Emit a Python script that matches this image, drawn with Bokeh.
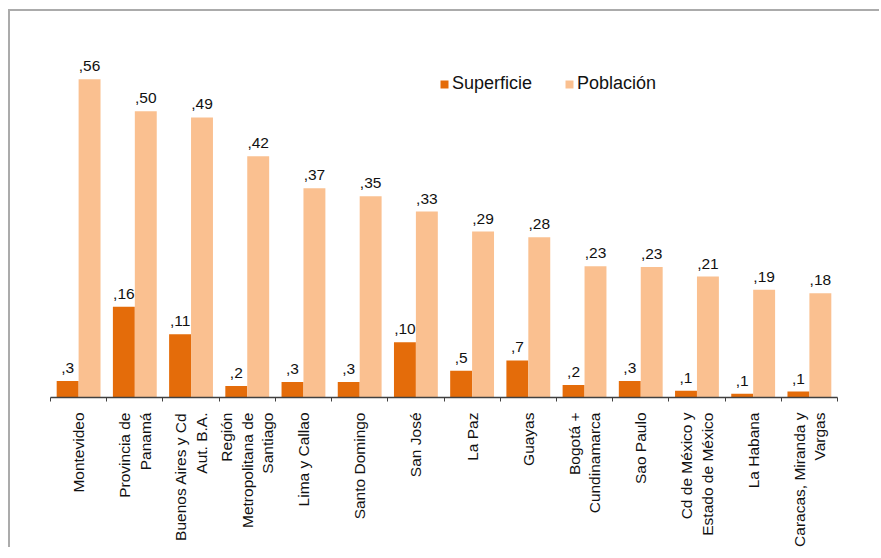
import math
from bokeh.plotting import figure
from bokeh.models import (FactorRange, Range1d, LinearAxis, CategoricalAxis, FixedTicker,
                          ColumnDataSource, Legend, LegendItem)
from bokeh.transform import dodge
from bokeh.core.properties import value
from bokeh.embed import file_html
from bokeh.resources import INLINE

categories = ["Montevideo", "Provincia de\nPanamá", "Buenos Aires y Cd\nAut. B.A.",
              "Región\nMetropolitana de\nSantiago", "Lima y Callao", "Santo Domingo",
              "San José", "La Paz", "Guayas", "Bogotá +\nCundinamarca", "Sao Paulo",
              "Cd de México y\nEstado de México", "La Habana", "Caracas, Miranda y\nVargas"]
superficie = [0.029, 0.159, 0.111, 0.020, 0.027, 0.027, 0.097, 0.047, 0.065, 0.022,
              0.029, 0.012, 0.0065, 0.0105]
poblacion = [0.558, 0.502, 0.491, 0.423, 0.367, 0.353, 0.326, 0.291, 0.281, 0.230,
             0.229, 0.212, 0.189, 0.183]
superficie_labels = [",3", ",16", ",11", ",2", ",3", ",3", ",10", ",5", ",7", ",2",
                     ",3", ",1", ",1", ",1"]
poblacion_labels = [",56", ",50", ",49", ",42", ",37", ",35", ",33", ",29", ",28",
                    ",23", ",23", ",21", ",19", ",18"]

DARK = "#E46C0A"
LIGHT = "#FAC090"
FONT = "Liberation Sans"

src = ColumnDataSource(dict(cat=categories, sup=superficie, pob=poblacion,
                            sl=superficie_labels, pl=poblacion_labels))

p = figure(x_range=FactorRange(*categories), y_range=Range1d(0, 0.626),
           width=871, height=538, output_backend="svg", toolbar_location=None,
           x_axis_location=None, y_axis_location=None,
           min_border_left=40, min_border_right=44, min_border_top=29, min_border_bottom=145)
p.styles = {"margin-left": "8px", "margin-top": "9px",
            "border-left": "2px solid #ababab", "border-top": "2px solid #ababab",
            "border-right": "none", "border-bottom": "none"}
p.xgrid.visible = False
p.ygrid.visible = False
p.outline_line_color = None
p.background_fill_color = "white"
p.border_fill_color = "white"

bw = 0.39
r1 = p.vbar(x=dodge("cat", -bw / 2, range=p.x_range), top="sup", width=bw, source=src,
            fill_color=DARK, line_color=None)
r2 = p.vbar(x=dodge("cat", bw / 2, range=p.x_range), top="pob", width=bw, source=src,
            fill_color=LIGHT, line_color=None)

for off, col, lab in [(-bw / 2, "sup", "sl"), (bw / 2, "pob", "pl")]:
    p.text(x=dodge("cat", off, range=p.x_range), y=col, text=lab, source=src,
           text_align="center", text_baseline="alphabetic", y_offset=-13,
           text_font=value(FONT), text_font_size="15.5px", text_color="#111111")

# axis line with tick marks at category boundaries (synthetic coordinates of the factor range)
bounds = list(range(len(categories) + 1))
tick_axis = LinearAxis(ticker=FixedTicker(ticks=bounds, minor_ticks=[]),
                       major_label_overrides={i: "" for i in bounds},
                       major_label_standoff=0, major_tick_in=0, major_tick_out=4,
                       minor_tick_line_color=None, axis_line_color="#404040",
                       major_tick_line_color="#404040", axis_line_width=1.5,
                       major_label_text_font_size="1px")
p.add_layout(tick_axis, "below")

cat_axis = CategoricalAxis(axis_line_color=None, major_tick_line_color=None,
                           minor_tick_line_color=None, major_label_orientation=math.pi / 2,
                           major_label_standoff=5, major_label_text_font=FONT,
                           major_label_text_font_size="15.5px", major_label_text_color="#111111")
p.add_layout(cat_axis, "below")

legend = Legend(items=[LegendItem(label="Superficie", renderers=[r1]),
                       LegendItem(label="Población", renderers=[r2])],
                orientation="horizontal", location=(389, 303),
                glyph_width=10, glyph_height=10, label_standoff=3, spacing=32,
                padding=0, margin=0, border_line_color=None, background_fill_alpha=0,
                label_text_font=FONT, label_text_font_size="18px", label_text_color="#111111")
p.add_layout(legend)

open("out.html", "w").write(file_html(p, INLINE))
